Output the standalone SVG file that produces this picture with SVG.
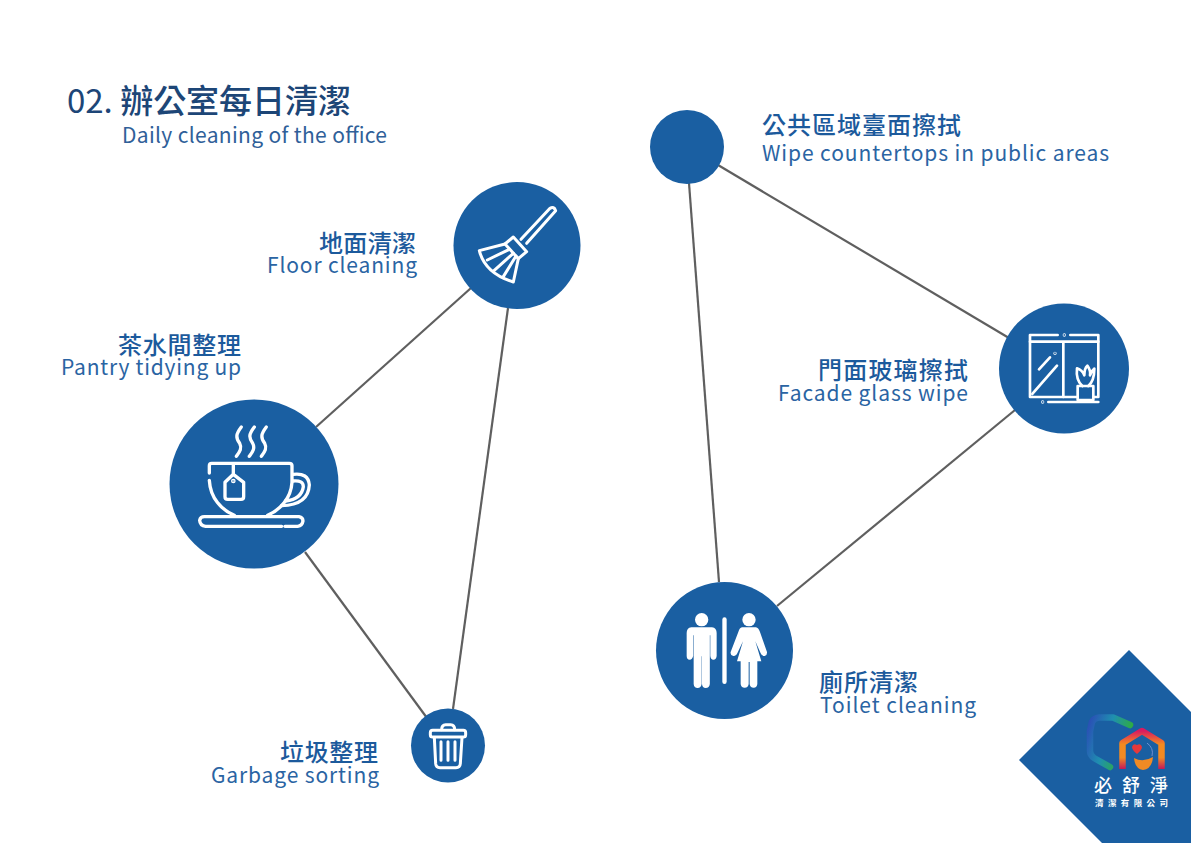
<svg xmlns="http://www.w3.org/2000/svg" width="1191" height="843" viewBox="0 0 1191 843">
<defs>
<style>
text{font-family:"Noto Sans CJK TC","Noto Sans",sans-serif}
.disc{fill:#1a5fa2}
.zh{font-size:24px;fill:#1c5a9c;font-weight:500}
.en{font-size:21px;fill:#2a64a3}
.line{stroke:#5f5f5f;stroke-width:2.2;fill:none}
.ic{fill:none;stroke:#fff;stroke-linecap:round;stroke-linejoin:round}
.wf{fill:#fff}
</style>
<linearGradient id="gHex" x1="0" y1="0" x2="1" y2="0.4"><stop offset="0" stop-color="#2a4fb5"/><stop offset="0.5" stop-color="#1f8fb0"/><stop offset="1" stop-color="#2fae3c"/></linearGradient>
<linearGradient id="gHouse" x1="0" y1="0" x2="0" y2="1"><stop offset="0" stop-color="#d81b60"/><stop offset="0.35" stop-color="#f58a1f"/><stop offset="0.7" stop-color="#f08a24"/><stop offset="1" stop-color="#c2185b"/></linearGradient>
</defs>
<rect width="1191" height="843" fill="#fff"/>
<g id="connectors">
<path class="line" d="M316 427L471 288"/>
<path class="line" d="M305 552L427 718"/>
<path class="line" d="M508 308L453 709"/>
<path class="line" d="M718 165L1009 338"/>
<path class="line" d="M689 183L719 582"/>
<path class="line" d="M1015 410L777 606"/>
</g>
<g id="title">
<text x="67" y="113" font-size="33" fill="#1d4677" font-weight="500" textLength="284"><tspan font-weight="400">02.</tspan> 辦公室每日清潔</text>
<text x="122" y="143" font-size="21" fill="#2f6099" textLength="265">Daily cleaning of the office</text>
</g>
<g id="node-floor">
<circle class="disc" cx="517" cy="245.5" r="63.5"/>
<g transform="translate(450 180) scale(.3333)" class="ic" stroke-width="9">
<path d="M213 178L300 85Q312 78 317 92L230 190"/>
<path d="M165 192L190 171L230 215L205 236Z"/>
<path d="M165 192L88 212Q105 280 190 306L205 236"/>
<path d="M178 208L112 240M190 220L132 272M198 228L160 290"/>
</g>
<text class="zh" x="319" y="252" textLength="97">地面清潔</text>
<text class="en" x="267" y="273" textLength="150">Floor cleaning</text>
</g>
<g id="node-pantry">
<circle class="disc" cx="254" cy="484" r="84.5"/>
<g transform="translate(165 395) scale(.3333)" class="ic" stroke-width="10">
<path d="M133 234V212Q133 205 140 205H373Q381 205 381 212V262C378 310 345 345 308 361"/>
<path d="M133 256C136 310 170 345 208 361"/>
<path d="M384 238Q430 232 433 270Q430 330 350 332"/>
<path d="M384 258Q415 255 415 275Q410 312 362 318"/>
<path d="M350 394H122Q105 392 104 376Q106 365 118 365H402Q414 367 414 378Q412 392 398 394H360"/>
<path d="M205 210V238L180 262V305Q180 313 188 313H228Q236 313 236 305V262L205 238Z"/>
<circle cx="205" cy="258" r="2" fill="#fff"/>
<path d="M229 96C212 118 212 128 224 145C232 160 224 170 214 184"/>
<path d="M268 96C251 118 251 128 263 145C271 160 263 170 253 184"/>
<path d="M304 96C287 118 287 128 299 145C307 160 299 170 289 184"/>
</g>
<text class="zh" x="118" y="354" textLength="123">茶水間整理</text>
<text class="en" x="61" y="375" textLength="180">Pantry tidying up</text>
</g>
<g id="node-garbage">
<circle class="disc" cx="448" cy="745.5" r="37"/>
<g transform="translate(405 705) scale(.3333)" class="ic" stroke-width="9">
<rect x="76" y="76" width="106" height="20" rx="7"/>
<path d="M110 74Q110 59 122 59H137Q149 59 149 74"/>
<path d="M88 98L92 176Q93 188 105 188H153Q165 188 166 176L171 98"/>
<path d="M108 110V166M129 110V166M150 110V166"/>
</g>
<text class="zh" x="280" y="761" textLength="98">垃圾整理</text>
<text class="en" x="211" y="783" textLength="168">Garbage sorting</text>
</g>
<g id="node-public">
<circle class="disc" cx="687" cy="147" r="37"/>
<text class="zh" x="762" y="134" textLength="199">公共區域臺面擦拭</text>
<text class="en" x="762" y="161" textLength="347">Wipe countertops in public areas</text>
</g>
<g id="node-glass">
<circle class="disc" cx="1064" cy="368.5" r="65"/>
<g transform="translate(995 300) scale(.3333)" class="ic" stroke-width="8">
<path d="M188 105H105V291H246M296 291H310V105H226"/>
<path d="M105 125H310M205 125V291"/>
<path d="M112 282L186 197M132 208L165 172"/>
<path d="M160 306H310"/>
<path d="M248 258H295V300H248Z"/>
<path d="M262 258Q242 240 246 205Q262 210 268 226Q268 205 277 197Q288 212 285 226Q290 212 298 206Q298 242 280 258"/>
<circle cx="208" cy="105" r="1" fill="#fff"/>
<circle cx="180" cy="160" r="1" fill="#fff"/>
<circle cx="143" cy="306" r="1" fill="#fff"/>
</g>
<text class="zh" x="818" y="379" textLength="150">門面玻璃擦拭</text>
<text class="en" x="778" y="401" textLength="190">Facade glass wipe</text>
</g>
<g id="node-toilet">
<circle class="disc" cx="724.5" cy="650.5" r="68.5"/>
<g transform="translate(650 578) scale(.3333)" class="wf">
<circle cx="155" cy="125" r="20"/>
<circle cx="297" cy="125" r="20"/>
<rect x="217" y="118" width="13" height="200" rx="6.5"/>
<path d="M124 148H186Q200 150 200 165V234Q199 245 190 245Q182 245 181 234V172H179.500V318Q178 330 167 330Q157 330 156 318V235H155V318Q153 330 143 330Q132 330 131 318V172H129.500V234Q127 245 119 245Q110 245 110 234V165Q110 150 124 148Z"/>
<path d="M276 148H318Q325 149 330 162L351 222Q352 232 344 234Q336 236 332 226L316 190L334 250H322V318Q321 329 311 329Q300 329 299 318V252H296V318Q295 329 284 329Q273 329 272 318V250H261L279 190L262 226Q258 236 250 234Q240 232 242 222L265 162Q269 149 276 148Z"/>
</g>
<text class="zh" x="819" y="691" textLength="99">廁所清潔</text>
<text class="en" x="820" y="713" textLength="156">Toilet cleaning</text>
</g>
<g id="logo">
<path class="disc" d="M1129 650L1191 712V843H1102L1019 760Z"/>
<path d="M1130 725L1113 717.500H1099Q1094 718 1092 722L1090 731V751Q1090 755 1094 758L1110 767" fill="none" stroke="url(#gHex)" stroke-width="6.500" stroke-linecap="round" stroke-linejoin="round"/>
<path d="M1122.500 769V743L1142 731L1161.500 743V769" fill="none" stroke="url(#gHouse)" stroke-width="6.500" stroke-linejoin="round"/>
<path d="M1137 754Q1132 750 1132 747Q1133 743 1137 745Q1141 743 1142 747Q1142 750 1137 754Z" fill="#e5383b"/>
<path d="M1134 758Q1143 763 1153 757Q1152 769 1143 770Q1135 769 1134 758Z" fill="#f08a24"/>
<path d="M1147 743Q1154 748 1152 756" fill="none" stroke="#6f8fd0" stroke-width="1"/>
<text x="1094" y="792" font-size="18" fill="#fff" font-weight="500" textLength="74">必 舒 淨</text>
<text x="1095" y="806" font-size="8.500" fill="#fff" font-weight="700" textLength="73">清 潔 有 限 公 司</text>
</g>
</svg>
